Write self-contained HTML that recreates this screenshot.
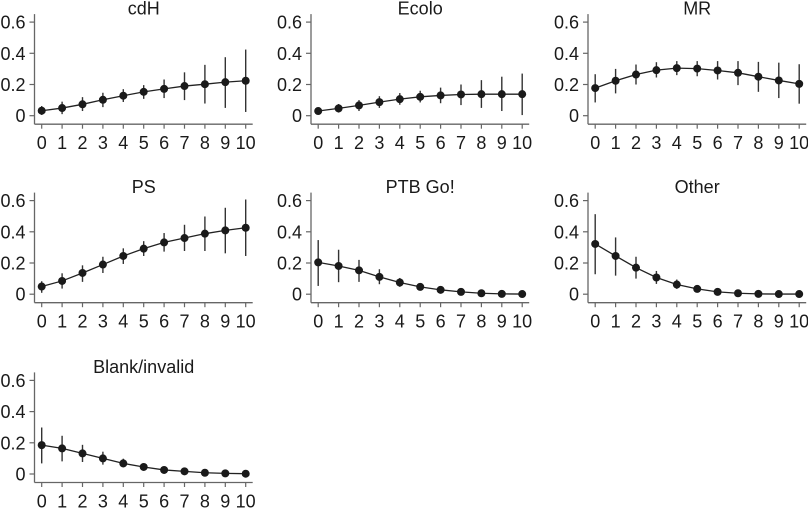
<!DOCTYPE html>
<html><head><meta charset="utf-8"><style>
html,body{margin:0;padding:0;background:#fff;}
svg text{font-family:"Liberation Sans",Arial,sans-serif;fill:#1a1a1a;}
</style></head><body>
<svg id="chart" width="808" height="508" xmlns="http://www.w3.org/2000/svg"></svg>
<script>
const categories=[0,1,2,3,4,5,6,7,8,9,10];
const yTicks=[0,0.2,0.4,0.6];
const yTickLabels=["0","0.2","0.4","0.6"];
const panelTitles=["cdH","Ecolo","MR","PS","PTB Go!","Other","Blank/invalid"];
const cdH=[0.032,0.049,0.073,0.102,0.128,0.153,0.172,0.19,0.202,0.215,0.224];
const cdHLo=[0.005,0.01,0.03,0.055,0.088,0.108,0.113,0.1,0.078,0.05,0.024];
const cdHHi=[0.062,0.09,0.119,0.147,0.17,0.196,0.232,0.278,0.326,0.375,0.424];
const ecolo=[0.03,0.047,0.066,0.087,0.106,0.121,0.13,0.136,0.138,0.138,0.138];
const ecoloLo=[0.01,0.02,0.03,0.05,0.07,0.085,0.08,0.068,0.05,0.03,0.004];
const ecoloHi=[0.05,0.075,0.1,0.125,0.145,0.16,0.18,0.2,0.228,0.25,0.27];
const mr=[0.177,0.224,0.264,0.292,0.305,0.302,0.29,0.275,0.25,0.226,0.204];
const mrLo=[0.085,0.143,0.2,0.245,0.26,0.253,0.232,0.196,0.153,0.113,0.077];
const mrHi=[0.266,0.3,0.328,0.343,0.35,0.35,0.35,0.35,0.345,0.34,0.33];
const ps=[0.049,0.085,0.136,0.19,0.245,0.292,0.332,0.36,0.388,0.409,0.426];
const psLo=[0.009,0.036,0.079,0.136,0.194,0.245,0.273,0.277,0.277,0.262,0.245];
const psHi=[0.083,0.134,0.185,0.24,0.294,0.34,0.392,0.445,0.498,0.554,0.607];
const ptb=[0.204,0.181,0.153,0.111,0.075,0.047,0.028,0.015,0.006,0.002,0.001];
const ptbLo=[0.053,0.077,0.079,0.064,0.047,0.026,0.015,0.006,0.001,0,0];
const ptbHi=[0.347,0.285,0.22,0.16,0.104,0.066,0.042,0.026,0.013,0.006,0.003];
const other=[0.322,0.245,0.17,0.107,0.062,0.034,0.015,0.006,0.002,0.001,0.001];
const otherLo=[0.128,0.119,0.1,0.066,0.034,0.017,0.006,0.001,0,0,0];
const otherHi=[0.513,0.364,0.24,0.149,0.094,0.05,0.026,0.013,0.006,0.003,0.002];
const blank=[0.185,0.164,0.132,0.1,0.068,0.045,0.026,0.017,0.008,0.004,0.002];
const blankLo=[0.068,0.081,0.077,0.06,0.043,0.023,0.013,0.007,0.002,0,0];
const blankHi=[0.298,0.245,0.187,0.143,0.098,0.066,0.04,0.028,0.015,0.008,0.005];

const series=[[cdH,cdHLo,cdHHi],[ecolo,ecoloLo,ecoloHi],[mr,mrLo,mrHi],[ps,psLo,psHi],[ptb,ptbLo,ptbHi],[other,otherLo,otherHi],[blank,blankLo,blankHi]];
const NS="http://www.w3.org/2000/svg";
const svg=document.getElementById('chart');
function mk(tag,attrs,parent){const e=document.createElementNS(NS,tag);for(const k in attrs)e.setAttribute(k,attrs[k]);parent.appendChild(e);return e;}
const colX=[34.5,311,588];
const rowZero=[115.7,294.2,474];
const unitPx=156;
series.forEach((s,i)=>{
  const col=i%3,row=Math.floor(i/3);
  const ax=colX[col],y0=rowZero[row];
  const x0=ax+7.2,dx=20.4;
  const xS=v=>x0+v*dx;
  const yS=v=>y0-v*unitPx;
  const g=mk('g',{},svg);
  
  
  const t=mk('text',{x:xS(5),y:y0-101,'text-anchor':'middle','font-size':'18'},g);
  t.textContent=panelTitles[i];
  
  
  const ya=mk('line',{x1:ax,x2:ax,y1:yS(0.6)-8,y2:y0+8.5,stroke:'#666','stroke-width':1.3},g);
  
  
  const xa=mk('line',{x1:ax,x2:xS(10)+7,y1:y0+8.5,y2:y0+8.5,stroke:'#666','stroke-width':1.3},g);
  
  
  yTicks.forEach((v,k)=>{
    mk('line',{x1:ax-5,x2:ax,y1:yS(v),y2:yS(v),stroke:'#666','stroke-width':1.2},g);
    const l=mk('text',{x:ax-9,y:yS(v)+6.5,'text-anchor':'end','font-size':'18'},g);
    l.textContent=yTickLabels[k];
    
    
  });
  categories.forEach(c=>{
    mk('line',{x1:xS(c),x2:xS(c),y1:y0+8.5,y2:y0+13,stroke:'#666','stroke-width':1.2},g);
    const l=mk('text',{x:xS(c),y:y0+33.5,'text-anchor':'middle','font-size':'18'},g);
    l.textContent=String(c);
    
    
  });
  const [v,lo,hi]=s;
  categories.forEach((c,k)=>{
    const e=mk('line',{x1:xS(c),x2:xS(c),y1:yS(hi[k]),y2:yS(lo[k]),stroke:'#333','stroke-width':1.4},g);
    
    
  });
  const p=mk('polyline',{points:categories.map((c,k)=>xS(c)+','+yS(v[k])).join(' '),fill:'none',stroke:'#222','stroke-width':1.3},g);
  
  
  categories.forEach((c,k)=>{
    const d=mk('circle',{cx:xS(c),cy:yS(v[k]),r:4,fill:'#1a1a1a'},g);
    
    
  });
});
</script>
</body></html>
